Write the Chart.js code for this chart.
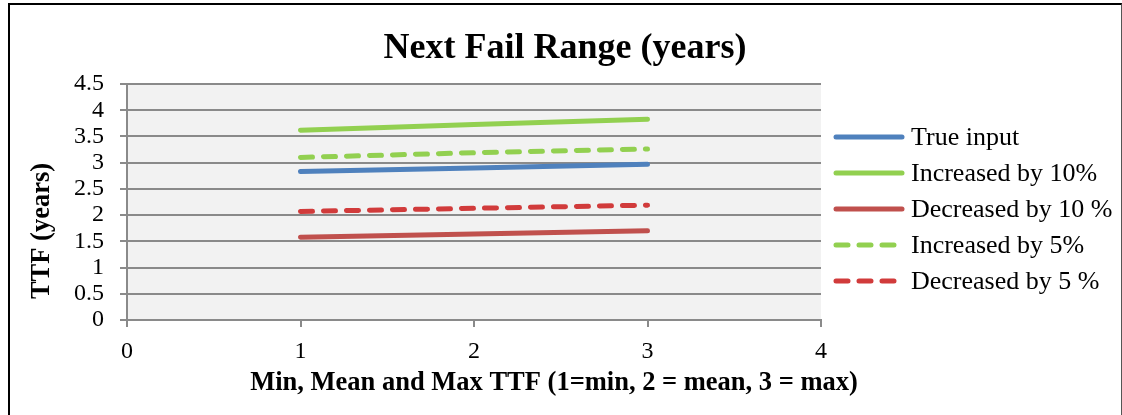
<!DOCTYPE html>
<html lang="en">
<head>
    <meta charset="UTF-8">
    <script src="https://cdn.jsdelivr.net/npm/chart.js"></script>
    <title>Next Fail Range</title>
    <style>
      body { margin: 0; background: #fff; }
      #wrap { position: relative; width: 1122px; height: 415px; overflow: hidden; }
      #frame {
        position: absolute; left: 8px; top: 3px; width: 1114px; height: 420px;
        box-sizing: border-box; pointer-events: none;
        border-top: 2px solid #000; border-left: 2px solid #000; border-right: 1px solid #555;
      }
    </style>
</head>
<body>
<div id="wrap">
  <canvas id="grafico" width="1122" height="415"></canvas>
  <div id="frame"></div>
</div>

<script>
  // dados
  const pontosX = [1, 2, 3]; // 1 = min, 2 = mean, 3 = max
  const trueInput = [2.83, 2.90, 2.97];
  const increased10 = [3.62, 3.73, 3.83];
  const decreased10 = [1.58, 1.64, 1.70];
  const increased5 = [3.10, 3.19, 3.26];
  const decreased5 = [2.07, 2.13, 2.19];

  const nomesSeries = ["True input", "Increased by 10%", "Decreased by 10 %", "Increased by 5%", "Decreased by 5 %"];
  const ticksX = ["0", "1", "2", "3", "4"];
  const ticksY = ["0", "0.5", "1", "1.5", "2", "2.5", "3", "3.5", "4", "4.5"];

  const tituloGrafico = "Next Fail Range (years)";
  const tituloX = "Min, Mean and Max TTF (1=min, 2 = mean, 3 = max)";
  const tituloY = "TTF (years)";

  const fonte = "'Liberation Serif', 'Times New Roman', serif";

  function serie(valores) {
    return pontosX.map((x, i) => ({ x: x, y: valores[i] }));
  }

  function dataset(label, valores, cor, tracejado) {
    return {
      label: label,
      data: serie(valores),
      showLine: true,
      borderColor: cor,
      backgroundColor: cor,
      borderWidth: 5,
      borderCapStyle: "round",
      borderDash: tracejado ? [12, 11] : [],
      pointRadius: 0,
      pointHoverRadius: 0,
      tension: 0
    };
  }

  // fundo cinza da area do grafico
  const fundoPlot = {
    id: "fundoPlot",
    beforeDraw(chart) {
      const a = chart.chartArea;
      const ctx = chart.ctx;
      ctx.save();
      ctx.fillStyle = "#f2f2f2";
      ctx.fillRect(a.left, a.top, a.right - a.left, a.bottom - a.top);
      ctx.restore();
    }
  };

  // titulo, titulos dos eixos e legenda desenhados a mao
  const extras = {
    id: "extras",
    afterDraw(chart) {
      const ctx = chart.ctx;
      ctx.save();
      ctx.fillStyle = "#000";
      ctx.textAlign = "center";
      ctx.textBaseline = "middle";

      ctx.font = "bold 36px " + fonte;
      ctx.fillText(tituloGrafico, 565, 49);

      ctx.font = "bold 26.5px " + fonte;
      ctx.fillText(tituloX, 554, 383);

      ctx.save();
      ctx.translate(42, 231);
      ctx.rotate(-Math.PI / 2);
      ctx.fillText(tituloY, 0, 0);
      ctx.restore();

      // legenda
      ctx.font = "26px " + fonte;
      ctx.textAlign = "left";
      chart.data.datasets.forEach((ds, i) => {
        const y = 137 + i * 36;
        ctx.beginPath();
        ctx.strokeStyle = ds.borderColor;
        ctx.lineWidth = ds.borderWidth;
        ctx.lineCap = "round";
        ctx.setLineDash(ds.borderDash);
        ctx.moveTo(836, y);
        ctx.lineTo(902, y);
        ctx.stroke();
        ctx.setLineDash([]);
        ctx.fillStyle = "#000";
        ctx.fillText(ds.label, 911, y + 1);
      });
      ctx.restore();
    }
  };

  const config = {
    type: "scatter",
    data: {
      datasets: [
        dataset(nomesSeries[0], trueInput, "#4f81bd", false),
        dataset(nomesSeries[1], increased10, "#92d050", false),
        dataset(nomesSeries[2], decreased10, "#c0504d", false),
        dataset(nomesSeries[3], increased5, "#92d050", true),
        dataset(nomesSeries[4], decreased5, "#d13b3b", true)
      ]
    },
    options: {
      responsive: false,
      animation: false,
      layout: { padding: { left: 0, right: 301, top: 84, bottom: 0 } },
      plugins: {
        legend: { display: false },
        tooltip: { enabled: false },
        title: { display: false }
      },
      scales: {
        x: {
          type: "linear",
          min: 0,
          max: 4,
          afterFit(scale) { scale.height = 95; },
          ticks: {
            stepSize: 1,
            autoSkip: false,
            color: "#000",
            padding: 10,
            font: { family: fonte, size: 24 },
            callback: (v, i) => ticksX[i]
          },
          grid: { drawOnChartArea: false, tickLength: 7, color: "#8a8a8a", lineWidth: 2 },
          border: { color: "#8a8a8a", width: 2 }
        },
        y: {
          min: 0,
          max: 4.5,
          afterFit(scale) { scale.width = 127; },
          ticks: {
            stepSize: 0.5,
            autoSkip: false,
            color: "#000",
            padding: 16,
            font: { family: fonte, size: 24 },
            callback: (v, i) => ticksY[i]
          },
          grid: { tickLength: 7, color: "#8a8a8a", lineWidth: 2 },
          border: { color: "#8a8a8a", width: 2 }
        }
      }
    },
    plugins: [fundoPlot, extras]
  };

  let grafico = new Chart(document.getElementById("grafico"), config);
</script>
</body>
</html>
